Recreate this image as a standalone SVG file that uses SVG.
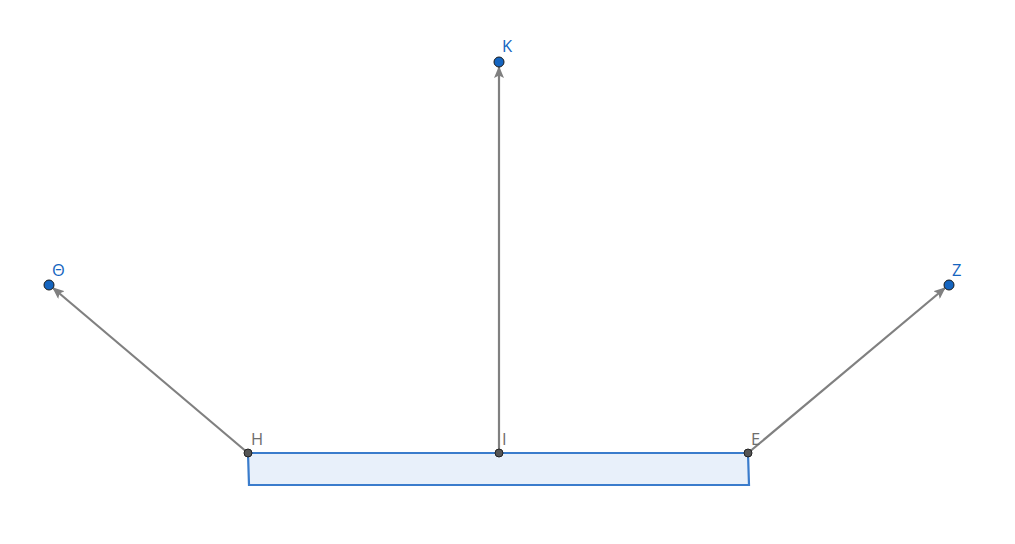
<svg xmlns="http://www.w3.org/2000/svg" width="1015" height="544" viewBox="0 0 1015 544">
<style>
.lbl{font-family:"Open Sans","Liberation Sans",sans-serif;font-size:16.5px}
.blue{fill:#1565c0}
.grey{fill:#6e6e6e}
.vec{stroke:#808080;stroke-width:2.2;fill:none}
.pt{fill:#1565c0;stroke:#1a1a1a;stroke-width:1}
.sp{fill:#555;stroke:#222;stroke-width:1}
</style>
<defs>
<marker id="ah" markerWidth="12" markerHeight="10" refX="11" refY="5" orient="auto" markerUnits="userSpaceOnUse">
<path d="M0,0 L12,5 L0,10 L2.5,5 Z" fill="#808080"/>
</marker>
</defs>
<rect width="1015" height="544" fill="#fff"/>
<g id="plate">
<polygon points="248,453 748,453 749,485 249,485" fill="#e8f0fa" stroke="#3a7ccc" stroke-width="2.2"/>
</g>
<g id="connectors">
<line class="vec" x1="499" y1="453" x2="499" y2="67" marker-end="url(#ah)"/>
<line class="vec" x1="248" y1="453" x2="53" y2="288" marker-end="url(#ah)"/>
<line class="vec" x1="748" y1="453" x2="945" y2="288" marker-end="url(#ah)"/>
</g>
<g id="H"><circle class="sp" cx="248" cy="453" r="4"/><text class="lbl grey" x="251" y="445">H</text></g>
<g id="I"><circle class="sp" cx="499" cy="453" r="4"/><text class="lbl grey" x="502" y="445">I</text></g>
<g id="E"><circle class="sp" cx="748" cy="453" r="4"/><text class="lbl grey" x="751" y="445">E</text></g>
<g id="K"><circle class="pt" cx="499" cy="62" r="5"/><text class="lbl blue" x="502" y="52">K</text></g>
<g id="Theta"><circle class="pt" cx="49" cy="285" r="5"/><text class="lbl blue" x="52" y="276">Θ</text></g>
<g id="Z"><circle class="pt" cx="949" cy="285" r="5"/><text class="lbl blue" x="952" y="276">Z</text></g>
</svg>
